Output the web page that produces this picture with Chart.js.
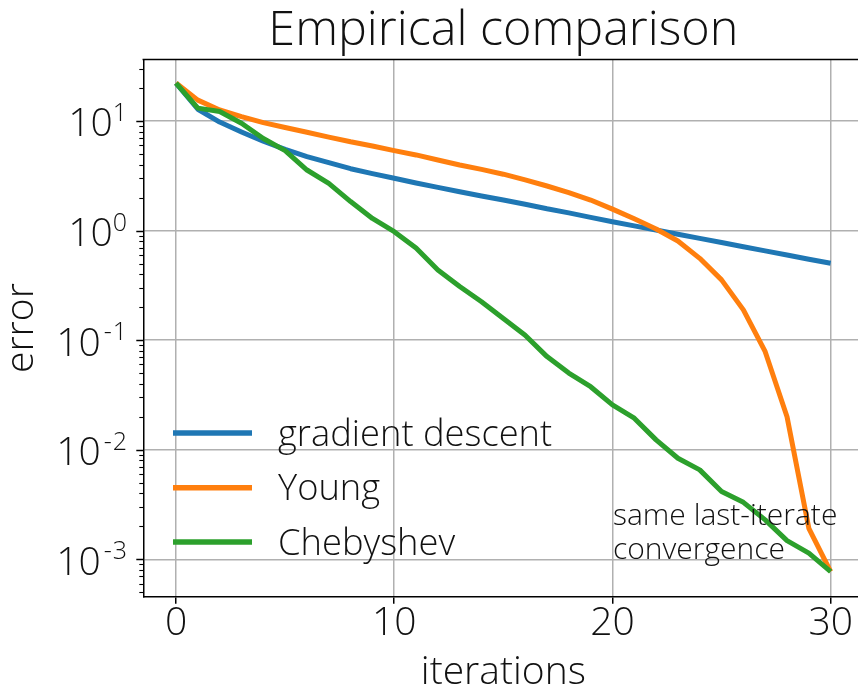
<!DOCTYPE html>
<html>
<head>
<meta charset="utf-8">
<style>
html,body{margin:0;padding:0;background:#fff;overflow:hidden;}
#wrap{width:870px;height:698px;}
</style>
<script src="https://cdn.jsdelivr.net/npm/chart.js@4/dist/chart.umd.min.js"></script>
</head>
<body>
<div id="wrap"><canvas id="c" width="870" height="698"></canvas></div>
<script>
// ---- data ----
const iterations = [0,1,2,3,4,5,6,7,8,9,10,11,12,13,14,15,16,17,18,19,20,21,22,23,24,25,26,27,28,29,30];
const gradientDescent = [22.2,12.8,9.77,7.94,6.53,5.50,4.73,4.17,3.67,3.31,3.00,2.72,2.48,2.26,2.07,1.90,1.74,1.58,1.45,1.32,1.205,1.104,1.012,0.927,0.849,0.778,0.713,0.653,0.598,0.548,0.504];
const young = [22.2,15.5,12.6,10.96,9.66,8.71,7.89,7.13,6.46,5.92,5.36,4.90,4.41,3.97,3.62,3.27,2.90,2.55,2.22,1.90,1.57,1.28,1.035,0.804,0.558,0.355,0.189,0.0785,0.020,0.00192,0.000773];
const chebyshev = [22.2,13.1,12.2,9.55,6.92,5.37,3.57,2.70,1.84,1.29,0.977,0.692,0.437,0.309,0.224,0.158,0.111,0.0708,0.0501,0.0376,0.0257,0.0194,0.0123,0.00836,0.00655,0.00415,0.00331,0.00229,0.00148,0.00114,0.000773];
const seriesNames = ['gradient descent','Young','Chebyshev'];
const xTickValues = [0,10,20,30];
const yDecadeExponents = [-3,-2,-1,0,1];
const annotationLines = ['same last-iterate','convergence'];
const titleText = 'Empirical comparison';
const xLabel = 'iterations';
const yLabel = 'error';

// ---- styling ----
const FONT = '"Open Sans", "DejaVu Sans", sans-serif';
const GRID = '#b0b0b0';
const COLORS = ['#1f77b4','#ff7f0e','#2ca02c'];
const Y_MIN = 4.56e-4, Y_MAX = 36.4;
const X_MIN = -1.5, X_MAX = 31.5;

function isDecade(v){ const l = Math.log10(v); return Math.abs(l - Math.round(l)) < 1e-7; }
function toPoints(arr){ return iterations.map((x,i)=>({x:x, y:arr[i]})); }

const extras = {
  id:'extras',
  afterDraw(chart){
    const {ctx, chartArea:a, scales:{y}} = chart;
    ctx.save();
    // top spine
    ctx.strokeStyle = '#000';
    ctx.lineWidth = 1.5;
    ctx.beginPath(); ctx.moveTo(a.left-0.75, a.top); ctx.lineTo(a.right, a.top); ctx.stroke();
    // y tick marks (major and minor)
    for (let e = -4; e <= 1; e++) {
      for (let m = 1; m <= 9; m++) {
        const v = m * Math.pow(10, e);
        if (v < Y_MIN || v > Y_MAX) continue;
        const py = Math.round(y.getPixelForValue(v)) + 0.5;
        const len = m === 1 ? 7 : 4;
        ctx.lineWidth = m === 1 ? 1.5 : 1.1;
        ctx.beginPath(); ctx.moveTo(a.left - len, py); ctx.lineTo(a.left, py); ctx.stroke();
      }
    }
    // y tick labels 10^e
    ctx.fillStyle = '#111';
    ctx.textBaseline = 'alphabetic';
    const R = 127;
    yDecadeExponents.forEach(e => {
      const py = y.getPixelForValue(Math.pow(10, e));
      const sup = String(Math.abs(e));
      ctx.font = '300 25px ' + FONT;
      let supW = ctx.measureText(sup).width;
      let minusW = 0;
      if (e < 0) { minusW = ctx.measureText('-').width + 4; }
      const supStart = R - supW - minusW;
      ctx.textAlign = 'left';
      if (e < 0) ctx.fillText('-', supStart + 3, py);
      ctx.fillText(sup, supStart + minusW, py);
      ctx.font = '300 39px ' + FONT;
      ctx.textAlign = 'right';
      ctx.fillText('10', supStart, py + 15.5);
    });
    // legend
    const legY = [433, 487.7, 542];
    chart.data.datasets.forEach((ds, i) => {
      ctx.strokeStyle = ds.borderColor;
      ctx.lineWidth = 5.5;
      ctx.lineCap = 'butt';
      ctx.beginPath(); ctx.moveTo(173, legY[i]); ctx.lineTo(252, legY[i]); ctx.stroke();
      ctx.fillStyle = '#111';
      ctx.font = '300 36.3px ' + FONT;
      ctx.textAlign = 'left';
      ctx.fillText(ds.label, 278, legY[i] + 12.5);
    });
    // annotation
    ctx.font = '300 30px ' + FONT;
    ctx.fillStyle = '#111';
    ctx.textAlign = 'left';
    ctx.fillText(annotationLines[0], 613, 525);
    ctx.fillText(annotationLines[1], 613, 559.3);
    ctx.restore();
  }
};

new Chart(document.getElementById('c'), {
  type: 'line',
  data: {
    datasets: [
      {label: seriesNames[0], data: toPoints(gradientDescent), borderColor: COLORS[0], order: 2},
      {label: seriesNames[1], data: toPoints(young), borderColor: COLORS[1], order: 1},
      {label: seriesNames[2], data: toPoints(chebyshev), borderColor: COLORS[2], order: 0}
    ]
  },
  options: {
    responsive: false,
    animation: false,
    parsing: true,
    layout: {padding: {left: 0, right: 6.6, top: 0, bottom: 0}},
    elements: {
      line: {borderWidth: 5, tension: 0, fill: false, borderJoinStyle: 'round', borderCapStyle: 'butt'},
      point: {radius: 0, hoverRadius: 0}
    },
    plugins: {
      legend: {display: false},
      tooltip: {enabled: false},
      title: {
        display: true, text: titleText, fullSize: false, color: '#111',
        font: {family: FONT, size: 48.5, weight: '300', lineHeight: 1},
        padding: {top: 7, bottom: 4}
      }
    },
    scales: {
      x: {
        type: 'linear', min: X_MIN, max: X_MAX,
        afterFit: s => { s.height = 101.3; },
        afterBuildTicks: s => { s.ticks = xTickValues.map(v => ({value: v})); },
        ticks: {stepSize: 10, includeBounds: false, autoSkip: false, maxRotation: 0, padding: 1, color: '#111',
                font: {family: FONT, size: 39, weight: '300', lineHeight: 1}},
        grid: {color: GRID, lineWidth: 1.5, tickColor: '#000', tickLength: 7, tickWidth: 1.5, drawTicks: true},
        border: {display: true, color: '#000', width: 1.5},
        title: {display: true, text: xLabel, color: '#111', padding: {top: 0, bottom: 1.7},
                font: {family: FONT, size: 39, weight: '300', lineHeight: 1.2}}
      },
      y: {
        type: 'logarithmic', min: Y_MIN, max: Y_MAX,
        afterFit: s => { s.width = 143.3; },
        ticks: {display: false, autoSkip: false},
        grid: {color: c => (c.tick && isDecade(c.tick.value)) ? GRID : 'rgba(0,0,0,0)', lineWidth: 1.5, drawTicks: false},
        border: {display: true, color: '#000', width: 1.5},
        title: {display: true, text: yLabel, color: '#111', padding: {top: 2.2, bottom: 0},
                font: {family: FONT, size: 39, weight: '300', lineHeight: 1}}
      }
    }
  },
  plugins: [extras]
});
</script>
</body>
</html>
